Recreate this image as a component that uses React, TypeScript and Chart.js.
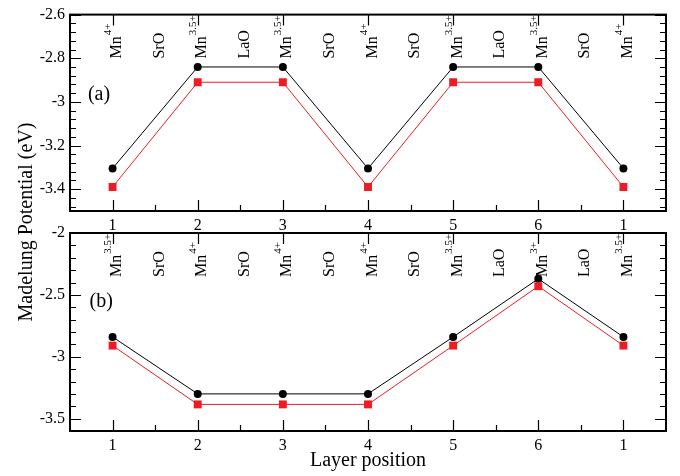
import React, { useEffect, useRef } from 'react';
import { Chart, registerables } from 'chart.js';

Chart.register(...registerables);

const FONT = 'Liberation Serif';
Chart.defaults.font.family = FONT;

// Layer positions (x) and tick labels
const positions = [1, 2, 3, 4, 5, 6, 7];
const xTickLabels = ['1', '2', '3', '4', '5', '6', '1'];
const minorXPositions = [1.5, 2.5, 3.5, 4.5, 5.5, 6.5];

// Panel (a)
const blackA = [-3.305, -2.84, -2.84, -3.305, -2.84, -2.84, -3.305];
const redA = [-3.39, -2.91, -2.91, -3.39, -2.91, -2.91, -3.39];
const yTicksA = [-3.4, -3.2, -3.0, -2.8, -2.6];

// Panel (b)
const blackB = [-2.84, -3.3, -3.3, -3.3, -2.84, -2.37, -2.84];
const redB = [-2.91, -3.385, -3.385, -3.385, -2.91, -2.43, -2.91];
const yTicksB = [-3.5, -3.0, -2.5, -2.0];

// Layer annotations
const layerPos = [1, 1.5, 2, 2.5, 3, 3.5, 4, 4.5, 5, 5.5, 6, 6.5, 7];
const layerNamesA = ['Mn', 'SrO', 'Mn', 'LaO', 'Mn', 'SrO', 'Mn', 'SrO', 'Mn', 'LaO', 'Mn', 'SrO', 'Mn'];
const layerChargesA = ['4+', '', '3.5+', '', '3.5+', '', '4+', '', '3.5+', '', '3.5+', '', '4+'];
const layerNamesB = ['Mn', 'SrO', 'Mn', 'SrO', 'Mn', 'SrO', 'Mn', 'SrO', 'Mn', 'LaO', 'Mn', 'LaO', 'Mn'];
const layerChargesB = ['3.5+', '', '4+', '', '4+', '', '4+', '', '3.5+', '', '3+', '', '3.5+'];

const RED = 'rgb(236,28,36)';

const framePlugin = {
  id: 'frame',
  afterDraw(chart: any, _args: any, opts: any) {
    const { ctx, chartArea, scales } = chart;
    const { left, right, top, bottom } = chartArea;
    const xs = scales.x;
    const ys = scales.y;
    ctx.save();
    ctx.strokeStyle = '#000';
    ctx.lineWidth = 1.2;
    ctx.beginPath();
    positions.forEach((p) => {
      const px = Math.round(xs.getPixelForValue(p)) + 0.5;
      ctx.moveTo(px, bottom);
      ctx.lineTo(px, bottom - 11);
      ctx.moveTo(px, top);
      ctx.lineTo(px, top + 11);
    });
    minorXPositions.forEach((p) => {
      const px = Math.round(xs.getPixelForValue(p)) + 0.5;
      ctx.moveTo(px, bottom);
      ctx.lineTo(px, bottom - 6);
    });
    const yMin = ys.min;
    const yMax = ys.max;
    const step = opts.minorStep;
    for (let k = 0; ; k++) {
      const v = yMax - k * step;
      if (v < yMin - 1e-9) break;
      const isMajor = opts.yMajor.some((m: number) => Math.abs(m - v) < 1e-6);
      const len = isMajor ? 11 : 6;
      const py = Math.round(ys.getPixelForValue(v)) + 0.5;
      ctx.moveTo(left, py);
      ctx.lineTo(left + len, py);
      ctx.moveTo(right, py);
      ctx.lineTo(right - len, py);
    }
    ctx.stroke();
    ctx.lineWidth = 2;
    ctx.strokeRect(left, top, right - left, bottom - top);

    ctx.fillStyle = '#000';
    opts.names.forEach((name: string, i: number) => {
      const px = xs.getPixelForValue(layerPos[i]);
      ctx.save();
      ctx.translate(px + 8.5, top + 44);
      ctx.rotate(-Math.PI / 2);
      ctx.font = `16px ${FONT}`;
      ctx.textAlign = 'left';
      ctx.textBaseline = 'alphabetic';
      ctx.fillText(name, 0, 0);
      const w = ctx.measureText(name).width;
      const charge = opts.charges[i];
      if (charge) {
        ctx.font = `11px ${FONT}`;
        ctx.fillText(charge, w + 1, -10);
      }
      ctx.restore();
    });

    ctx.font = `20px ${FONT}`;
    ctx.textAlign = 'left';
    ctx.textBaseline = 'alphabetic';
    ctx.fillText(opts.letter, xs.getPixelForValue(opts.letterX), ys.getPixelForValue(opts.letterY));

    if (opts.titles) {
      ctx.textAlign = 'center';
      ctx.fillText('Layer position', (left + right) / 2, bottom + 35);
      ctx.save();
      ctx.translate(32, 222);
      ctx.rotate(-Math.PI / 2);
      ctx.fillText('Madelung Potential (eV)', 0, 0);
      ctx.restore();
    }
    ctx.restore();
  },
};

function makeConfig(p: any): any {
  return {
    type: 'line',
    data: {
      datasets: [
        {
          data: p.red.map((v: number, i: number) => ({ x: positions[i], y: v })),
          borderColor: RED,
          backgroundColor: RED,
          borderWidth: 1,
          pointStyle: 'rect',
          pointRadius: 5.6,
          pointBorderWidth: 0,
          pointBackgroundColor: RED,
        },
        {
          data: p.black.map((v: number, i: number) => ({ x: positions[i], y: v })),
          borderColor: '#000',
          backgroundColor: '#000',
          borderWidth: 1,
          pointStyle: 'circle',
          pointRadius: 4,
          pointBorderWidth: 0,
          pointBackgroundColor: '#000',
        },
      ],
    },
    options: {
      animation: false,
      responsive: false,
      maintainAspectRatio: false,
      layout: { padding: { top: p.padTop, right: 14, left: 0, bottom: 0 } },
      plugins: {
        legend: { display: false },
        tooltip: { enabled: false },
        frame: {
          names: p.names,
          charges: p.charges,
          yMajor: p.yTicks,
          minorStep: p.minorStep,
          letter: p.letter,
          letterX: p.letterX,
          letterY: p.letterY,
          titles: p.titles,
        },
      },
      scales: {
        x: {
          type: 'linear',
          min: 0.5,
          max: 7.5,
          grid: { display: false, drawTicks: false, tickLength: 0 },
          border: { display: false },
          ticks: {
            font: { family: FONT, size: 16 },
            color: '#000',
            padding: 5,
            autoSkip: false,
            maxRotation: 0,
            callback: (_v: any, i: number) => xTickLabels[i],
          },
          afterBuildTicks: (s: any) => {
            s.ticks = positions.map((v) => ({ value: v }));
          },
          afterFit: (s: any) => {
            s.height = p.xHeight;
          },
        },
        y: {
          type: 'linear',
          min: p.yMin,
          max: p.yMax,
          grid: { display: false, drawTicks: false, tickLength: 0 },
          border: { display: false },
          ticks: {
            font: { family: FONT, size: 16 },
            color: '#000',
            padding: 5,
            callback: (v: number) => String(Math.round(v * 10) / 10),
          },
          afterBuildTicks: (s: any) => {
            s.ticks = p.yTicks.map((v: number) => ({ value: v }));
          },
          afterFit: (s: any) => {
            s.width = 70;
          },
        },
      },
    },
    plugins: [framePlugin],
  };
}

export default function App() {
  const refA = useRef<HTMLCanvasElement>(null);
  const refB = useRef<HTMLCanvasElement>(null);

  useEffect(() => {
    const chartB = new Chart(
      refB.current as HTMLCanvasElement,
      makeConfig({
        black: blackB,
        red: redB,
        yTicks: yTicksB,
        yMin: -3.6,
        yMax: -2.0,
        minorStep: 0.1,
        names: layerNamesB,
        charges: layerChargesB,
        letter: '(b)',
        letterX: 0.73,
        letterY: -2.6,
        titles: true,
        padTop: 233,
        xHeight: 45,
      })
    );
    const chartA = new Chart(
      refA.current as HTMLCanvasElement,
      makeConfig({
        black: blackA,
        red: redA,
        yTicks: yTicksA,
        yMin: -3.5,
        yMax: -2.6,
        minorStep: 0.04,
        names: layerNamesA,
        charges: layerChargesA,
        letter: '(a)',
        letterX: 0.71,
        letterY: -2.99,
        titles: false,
        padTop: 13,
        xHeight: 21,
      })
    );
    return () => {
      chartA.destroy();
      chartB.destroy();
    };
  }, []);

  return (
    <div style={{ position: 'absolute', left: 0, top: 0, width: 680, height: 476, background: '#fff' }}>
      <canvas ref={refB} width={680} height={476} style={{ position: 'absolute', left: 0, top: 0 }} />
      <canvas ref={refA} width={680} height={232} style={{ position: 'absolute', left: 0, top: 0 }} />
    </div>
  );
}
